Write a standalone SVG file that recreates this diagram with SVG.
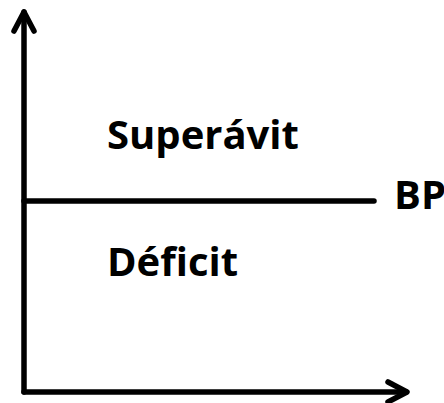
<svg xmlns="http://www.w3.org/2000/svg" width="444" height="403" viewBox="0 0 444 403">
<style>
.ax{stroke:#000;stroke-width:5.5;fill:none;stroke-linecap:round;stroke-linejoin:round}
.t{font-family:"Open Sans","Liberation Sans",sans-serif;font-weight:bold;fill:#000;font-size:40px}
</style>
<rect width="444" height="403" fill="#fff"/>
<g id="connectors">
<path class="ax" d="M24,392 V12"/>
<path class="ax" d="M14,31 L24,12 L34,31"/>
<path class="ax" d="M24,392 H406"/>
<path class="ax" d="M388,382 L407,392 L388,402"/>
<path class="ax" d="M24,201 H374" stroke-linecap="butt"/>
</g>
<g id="superavit"><text class="t" x="107" y="149">Superávit</text></g>
<g id="deficit"><text class="t" x="107" y="276">Déficit</text></g>
<g id="bp"><text class="t" x="394" y="209">BP</text></g>
</svg>
